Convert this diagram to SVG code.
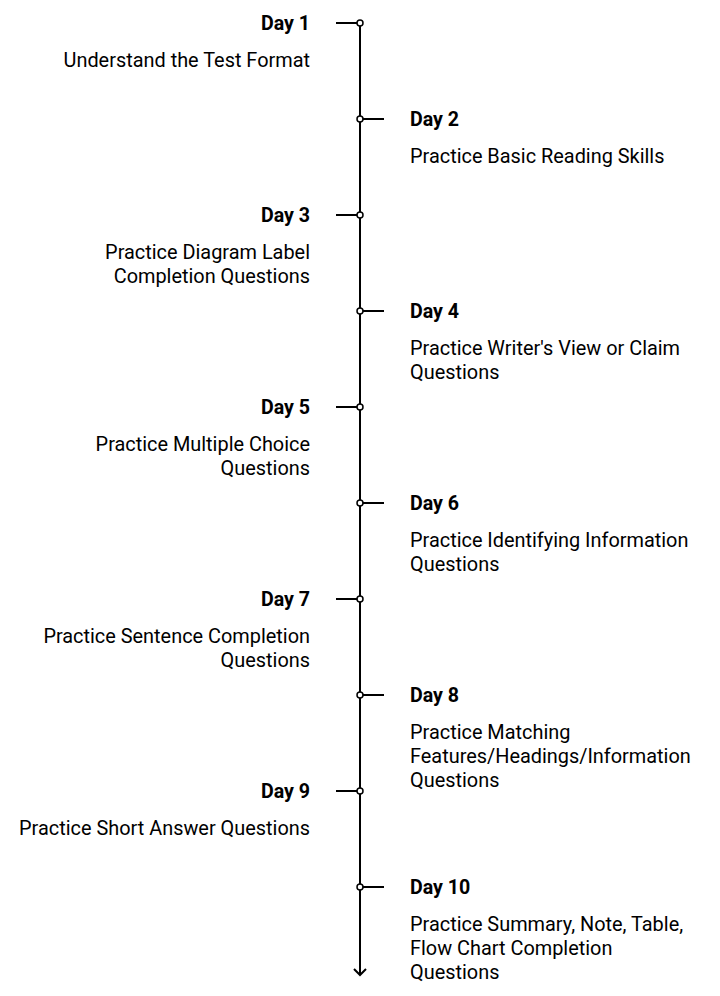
<svg xmlns="http://www.w3.org/2000/svg" width="720" height="996" viewBox="0 0 720 996">
<style>
.day{font-family:Roboto,"Liberation Sans",sans-serif;font-size:19.6px;font-weight:bold;fill:#000}
.desc{font-family:Roboto,"Liberation Sans",sans-serif;font-size:19.9px;fill:#000}
.l{text-anchor:end}
.ln{stroke:#000;stroke-width:2;fill:none}
.dot{fill:#fff;stroke:#000;stroke-width:1.5}
</style>
<rect width="720" height="996" fill="#fff"/>
<g id="connectors">
<line class="ln" x1="360" y1="23" x2="360" y2="975"/>
<polyline class="ln" points="354,969 360,975 366,969"/>
<line class="ln" x1="336" y1="23" x2="360" y2="23"/>
<line class="ln" x1="360" y1="119" x2="384" y2="119"/>
<line class="ln" x1="336" y1="215" x2="360" y2="215"/>
<line class="ln" x1="360" y1="311" x2="384" y2="311"/>
<line class="ln" x1="336" y1="407" x2="360" y2="407"/>
<line class="ln" x1="360" y1="503" x2="384" y2="503"/>
<line class="ln" x1="336" y1="599" x2="360" y2="599"/>
<line class="ln" x1="360" y1="695" x2="384" y2="695"/>
<line class="ln" x1="336" y1="791" x2="360" y2="791"/>
<line class="ln" x1="360" y1="887" x2="384" y2="887"/>
</g>
<g id="day1"><circle class="dot" cx="360" cy="23" r="3"/><text class="day l" x="310" y="30">Day 1</text><text class="desc l" x="310" y="67">Understand the Test Format</text></g>
<g id="day2"><circle class="dot" cx="360" cy="119" r="3"/><text class="day" x="410" y="126">Day 2</text><text class="desc" x="410" y="163">Practice Basic Reading Skills</text></g>
<g id="day3"><circle class="dot" cx="360" cy="215" r="3"/><text class="day l" x="310" y="222">Day 3</text><text class="desc l" x="310" y="259">Practice Diagram Label</text><text class="desc l" x="310" y="283">Completion Questions</text></g>
<g id="day4"><circle class="dot" cx="360" cy="311" r="3"/><text class="day" x="410" y="318">Day 4</text><text class="desc" x="410" y="355">Practice Writer's View or Claim</text><text class="desc" x="410" y="379">Questions</text></g>
<g id="day5"><circle class="dot" cx="360" cy="407" r="3"/><text class="day l" x="310" y="414">Day 5</text><text class="desc l" x="310" y="451">Practice Multiple Choice</text><text class="desc l" x="310" y="475">Questions</text></g>
<g id="day6"><circle class="dot" cx="360" cy="503" r="3"/><text class="day" x="410" y="510">Day 6</text><text class="desc" x="410" y="547">Practice Identifying Information</text><text class="desc" x="410" y="571">Questions</text></g>
<g id="day7"><circle class="dot" cx="360" cy="599" r="3"/><text class="day l" x="310" y="606">Day 7</text><text class="desc l" x="310" y="643">Practice Sentence Completion</text><text class="desc l" x="310" y="667">Questions</text></g>
<g id="day8"><circle class="dot" cx="360" cy="695" r="3"/><text class="day" x="410" y="702">Day 8</text><text class="desc" x="410" y="739">Practice Matching</text><text class="desc" x="410" y="763">Features/Headings/Information</text><text class="desc" x="410" y="787">Questions</text></g>
<g id="day9"><circle class="dot" cx="360" cy="791" r="3"/><text class="day l" x="310" y="798">Day 9</text><text class="desc l" x="310" y="835">Practice Short Answer Questions</text></g>
<g id="day10"><circle class="dot" cx="360" cy="887" r="3"/><text class="day" x="410" y="894">Day 10</text><text class="desc" x="410" y="931">Practice Summary, Note, Table,</text><text class="desc" x="410" y="955">Flow Chart Completion</text><text class="desc" x="410" y="979">Questions</text></g>
</svg>
